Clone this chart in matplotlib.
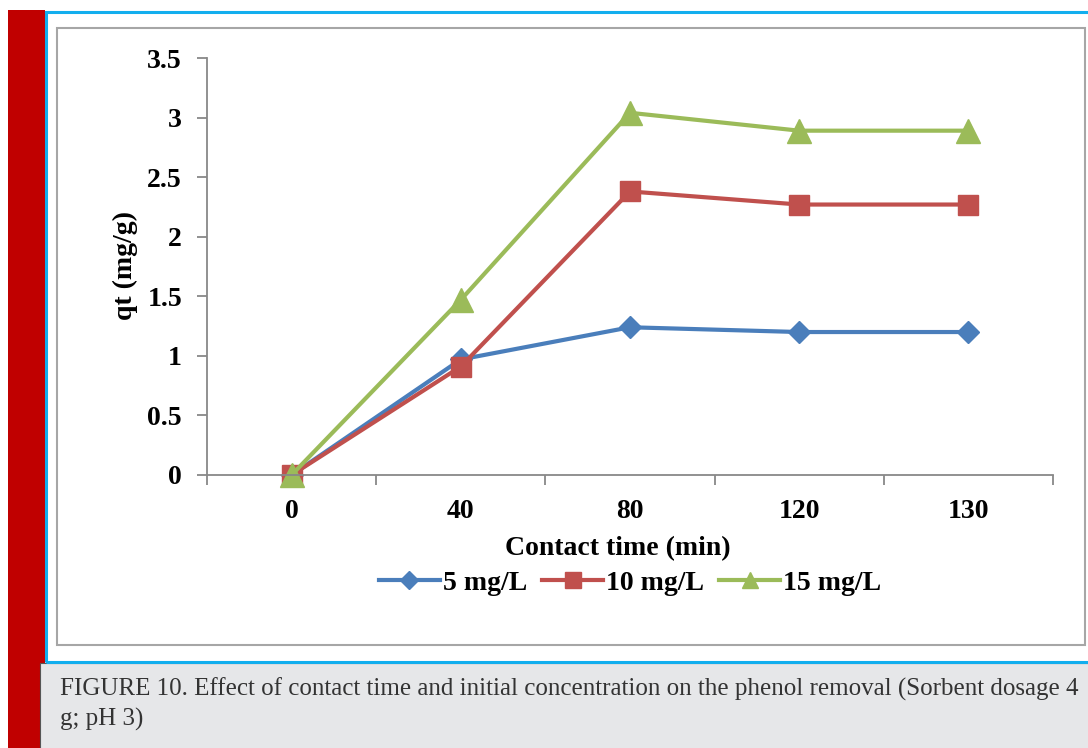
import numpy as np
from matplotlib import pyplot as plt
from matplotlib.patches import Rectangle
from matplotlib.lines import Line2D

times = ['0', '40', '80', '120', '130']
q_5 = [0.0, 0.97, 1.24, 1.20, 1.20]
q_10 = [0.0, 0.91, 2.38, 2.27, 2.27]
q_15 = [0.0, 1.47, 3.04, 2.89, 2.89]
labels = ['5 mg/L', '10 mg/L', '15 mg/L']

W, H = 1088, 748
fig = plt.figure(figsize=(W / 100, H / 100), dpi=100)
fig.patch.set_facecolor('white')

def box(x0, y0, x1, y1, **kw):
    # pixel coords (top-left origin) -> figure fraction
    fig.patches.append(Rectangle((x0 / W, 1 - y1 / H), (x1 - x0) / W, (y1 - y0) / H,
                                 transform=fig.transFigure, figure=fig, **kw))

# red side bar, caption box, blue frame, inner gray frame
box(8, 10, 45, 748, facecolor='#C00000', edgecolor='none')
box(40, 663, 1100, 760, facecolor='#E6E7E9', edgecolor='#555555', linewidth=0.8)
box(46, 12, 1100, 662, facecolor='none', edgecolor='#12AEEE', linewidth=2.2)
box(57, 28, 1085, 645, facecolor='none', edgecolor='#A6A6A6', linewidth=1.5)

fig.text(60 / W, 1 - 689 / H,
         'FIGURE 10. Effect of contact time and initial concentration on the phenol removal (Sorbent dosage 4',
         fontsize=18, family='Liberation Serif', color='#333333', va='center', ha='left')
fig.text(60 / W, 1 - 719 / H, 'g; pH 3)',
         fontsize=18, family='Liberation Serif', color='#333333', va='center', ha='left')

ax = fig.add_axes([207 / W, 1 - 475 / H, (1053 - 207) / W, (475 - 58) / H])
x = np.arange(len(times))
blue, red, green = '#4A7EBB', '#C0504D', '#9BBB59'
ax.plot(x, q_5, color=blue, lw=3, marker='D', ms=11, label=labels[0])
ax.plot(x, q_10, color=red, lw=3, marker='s', ms=15, label=labels[1])
ax.plot(x, q_15, color=green, lw=3, marker='^', ms=17, label=labels[2])

ax.set_xlim(-0.5, 4.5)
ax.set_ylim(0, 3.5)
ax.set_yticks([0, 0.5, 1, 1.5, 2, 2.5, 3, 3.5])
ax.set_yticklabels(['0', '0.5', '1', '1.5', '2', '2.5', '3', '3.5'])
ax.set_xticks(x)
ax.set_xticklabels(times)
ax.set_xticks(np.arange(-0.5, 5, 1), minor=True)
ax.tick_params(axis='x', which='major', length=0, pad=17)
ax.tick_params(axis='x', which='minor', length=7, color='#888888', width=1.3)
ax.tick_params(axis='y', length=7, color='#888888', width=1.3, pad=11)
for lab in ax.get_xticklabels() + ax.get_yticklabels():
    lab.set_family('Liberation Serif')
    lab.set_fontweight('bold')
    lab.set_fontsize(20)

for s in ['top', 'right']:
    ax.spines[s].set_visible(False)
for s in ['left', 'bottom']:
    ax.spines[s].set_color('#888888')
    ax.spines[s].set_linewidth(1.3)
for l in ax.lines:
    l.set_clip_on(False)

fig.text(125 / W, 1 - 266 / H, 'qt (mg/g)', rotation=90, fontsize=20,
         family='Liberation Serif', fontweight='bold', ha='center', va='center')
fig.text(618 / W, 1 - 549 / H, 'Contact time (min)', fontsize=20,
         family='Liberation Serif', fontweight='bold', ha='center', va='center')

handles = [Line2D([], [], color=blue, lw=3, marker='D', ms=9),
           Line2D([], [], color=red, lw=3, marker='s', ms=12),
           Line2D([], [], color=green, lw=3, marker='^', ms=12)]
fig.legend(handles, labels, loc='center', bbox_to_anchor=(630 / W, 1 - 583 / H), ncol=3,
           frameon=False, handlelength=2.2, handletextpad=0.1, columnspacing=0.55,
           prop={'family': 'Liberation Serif', 'weight': 'bold', 'size': 20})

fig.savefig('out.png', dpi=100)
